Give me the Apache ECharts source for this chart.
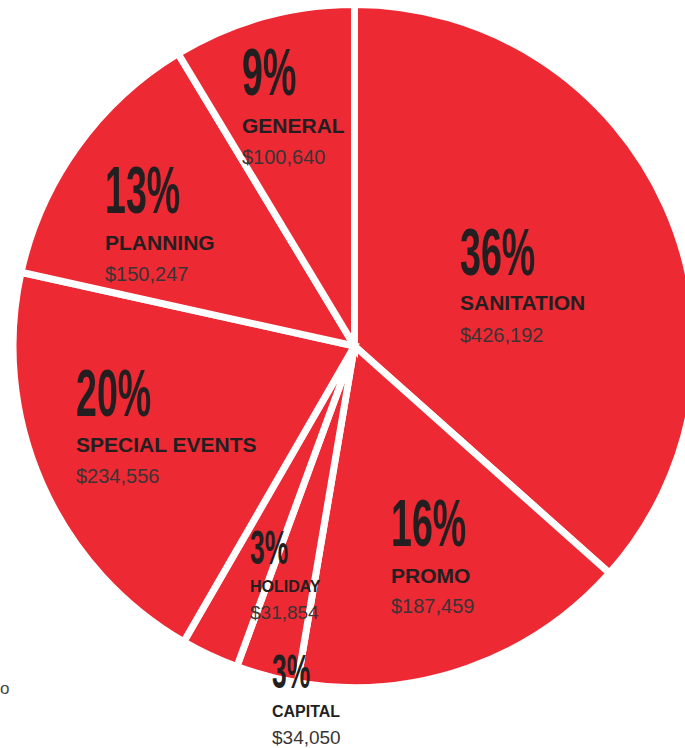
<!DOCTYPE html>
<html>
<head>
<meta charset="utf-8">
<style>
  html, body { margin: 0; padding: 0; background: #ffffff; }
  #chart { width: 685px; height: 748px; }
</style>
<script src="https://cdn.jsdelivr.net/npm/echarts@6/dist/echarts.min.js"></script>
</head>
<body>
<div id="chart"></div>
<script>
// ---- data ----
const categories = ['SANITATION', 'PROMO', 'CAPITAL', 'HOLIDAY', 'SPECIAL EVENTS', 'PLANNING', 'GENERAL'];
const values = [426192, 187459, 34050, 31854, 234556, 150247, 100640];
const percentLabels = ['36%', '16%', '3%', '3%', '20%', '13%', '9%'];

// ---- label layout (x = left edge, y = centre lines of percent / name / value) ----
const labelLayout = [
  { x: 460, yp: 252, yn: 302, yv: 335, big: true },
  { x: 391, yp: 523, yn: 575, yv: 606, big: true },
  { x: 272, yp: 671, yn: 711, yv: 737, big: false },
  { x: 250, yp: 547, yn: 586, yv: 612, big: false },
  { x: 76,  yp: 393, yn: 444, yv: 476, big: true },
  { x: 105, yp: 190, yn: 242, yv: 274, big: true },
  { x: 242, yp: 72,  yn: 125, yv: 157, big: true }
];

const RED = '#ED2934';
const INK = '#231F20';

const chart = echarts.init(document.getElementById('chart'), null, { renderer: 'svg' });

function money(v) { return '$' + v.toLocaleString('en-US'); }

const graphics = [];
categories.forEach(function (name, i) {
  const L = labelLayout[i];
  const pSize = L.big ? 66 : 48;
  const nSize = L.big ? 21 : 16;
  const vSize = L.big ? 20 : 19;
  graphics.push({
    type: 'text', x: L.x, y: L.yp, scaleX: L.big ? 0.57 : 0.55, silent: true, z: 100,
    style: { text: percentLabels[i], fill: INK,
      font: 'bold ' + pSize + 'px "Liberation Sans Narrow", "Arial Narrow", sans-serif',
      textAlign: 'left', textVerticalAlign: 'middle', align: 'left', verticalAlign: 'middle' }
  });
  graphics.push({
    type: 'text', x: L.x, y: L.yn, silent: true, z: 100,
    style: { text: name, fill: INK,
      font: 'bold ' + nSize + 'px "Liberation Sans", Arial, sans-serif',
      textAlign: 'left', textVerticalAlign: 'middle', align: 'left', verticalAlign: 'middle' }
  });
  graphics.push({
    type: 'text', x: L.x, y: L.yv, silent: true, z: 100,
    style: { text: money(values[i]), fill: '#3a3435',
      font: vSize + 'px "Liberation Sans", Arial, sans-serif',
      textAlign: 'left', textVerticalAlign: 'middle', align: 'left', verticalAlign: 'middle' }
  });
});
// small character at the left edge
graphics.push({
  type: 'text', x: 0, y: 688, silent: true, z: 100,
  style: { text: 'o', fill: '#444', font: '17px "Liberation Sans", Arial, sans-serif',
    textAlign: 'left', textVerticalAlign: 'middle', align: 'left', verticalAlign: 'middle' }
});

chart.setOption({
  animation: false,
  backgroundColor: '#ffffff',
  series: [{
    type: 'pie',
    z: 1,
    center: [354.5, 346],
    radius: [0, 341.5],
    startAngle: 90,
    clockwise: true,
    silent: true,
    label: { show: false },
    labelLine: { show: false },
    emphasis: { disabled: true },
    itemStyle: { color: RED, borderColor: '#ffffff', borderWidth: 7, borderJoin: 'miter' },
    data: categories.map(function (c, i) { return { name: c, value: values[i] }; })
  }],
  graphic: graphics
});
</script>
</body>
</html>
